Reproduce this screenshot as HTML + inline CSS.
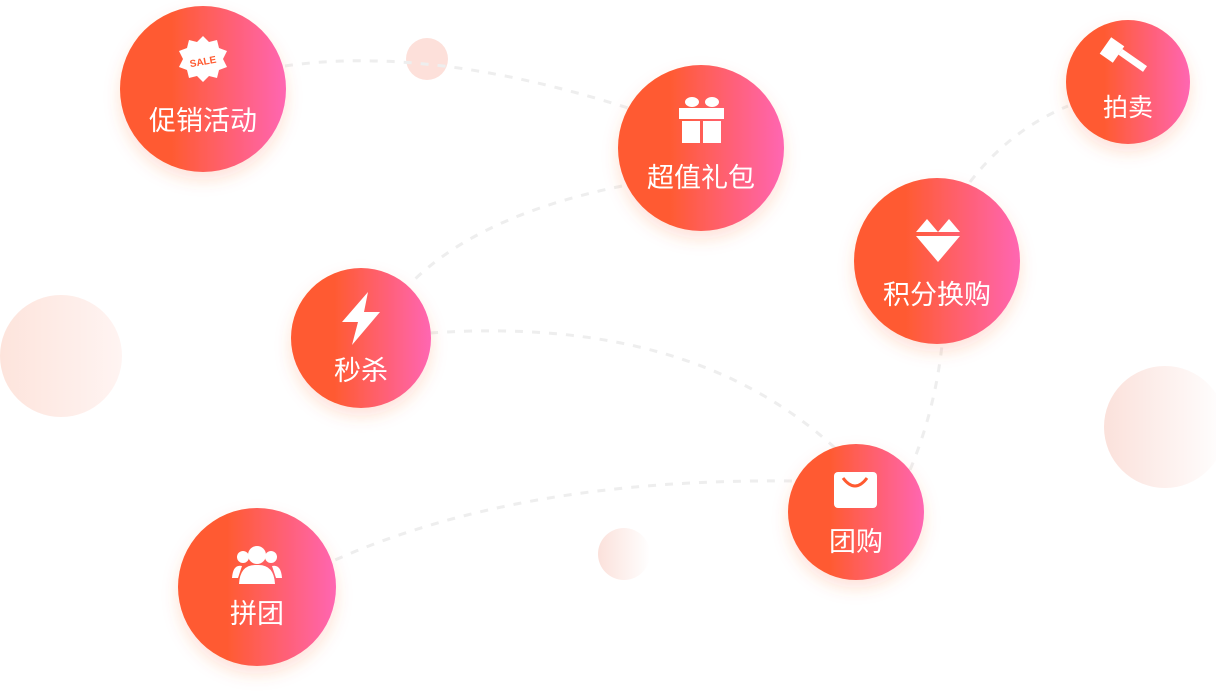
<!DOCTYPE html>
<html><head><meta charset="utf-8"><style>
html,body{margin:0;padding:0;background:#fff;width:1216px;height:694px;overflow:hidden}
svg{display:block}
text{font-family:"Liberation Sans","Noto Sans CJK SC",sans-serif;fill:#fff;text-anchor:middle}
</style></head><body>
<svg width="1216" height="694" viewBox="0 0 1216 694" xmlns="http://www.w3.org/2000/svg">
<defs>
<linearGradient id="g" x1="0" y1="0" x2="1" y2="0">
<stop offset="0.3" stop-color="#ff5a30"/><stop offset="1" stop-color="#ff66b2"/>
</linearGradient>
<linearGradient id="f1" x1="0" y1="0" x2="1" y2="0">
<stop offset="0" stop-color="#fde4dc"/><stop offset="1" stop-color="#fff4f2"/>
</linearGradient>
<linearGradient id="f2" x1="0" y1="0" x2="1" y2="0">
<stop offset="0" stop-color="#fbe1db"/><stop offset="1" stop-color="#ffffff"/>
</linearGradient>
<filter id="sh" x="-30%" y="-30%" width="160%" height="170%">
<feDropShadow dx="0" dy="8" stdDeviation="8" flood-color="#ff5a30" flood-opacity="0.18"/>
</filter>
</defs>
<circle cx="61" cy="356" r="61" fill="url(#f1)"/>
<circle cx="1165" cy="427" r="61" fill="url(#f2)"/>
<circle cx="624" cy="554" r="26" fill="url(#f2)"/>
<circle cx="427" cy="59" r="21" fill="#fde0da"/>
<g fill="none" stroke="#eeeeee" stroke-width="3" stroke-dasharray="8 9">
<path d="M285,66 Q430,45 628,108"/>
<path d="M622,186 Q480,215 412,282"/>
<path d="M430,333 Q690,315 835,448"/>
<path d="M792,481 Q520,478 335,560"/>
<path d="M910,470 Q935,410 942,345"/>
<path d="M970,182 Q1010,130 1068,106"/>
</g>
<g filter="url(#sh)">
<circle cx="203" cy="89" r="83" fill="url(#g)"/>
<circle cx="701" cy="148" r="83" fill="url(#g)"/>
<circle cx="1128" cy="82" r="62" fill="url(#g)"/>
<circle cx="937" cy="261" r="83" fill="url(#g)"/>
<circle cx="361" cy="338" r="70" fill="url(#g)"/>
<circle cx="856" cy="512" r="68" fill="url(#g)"/>
<circle cx="257" cy="587" r="79" fill="url(#g)"/>
</g>
<g fill="#fff">
<polygon points="203,36 209,42 217,40 219,48 227,51 223,59 227,67 219,70 217,78 209,76 203,82 197,76 189,78 187,70 179,67 183,59 179,51 187,48 189,40 197,42"/>
<text x="203" y="65" style="font-size:10px;font-weight:bold;fill:#ff5a30" transform="rotate(-10 203 62)">SALE</text>
<rect x="679" y="108" width="45" height="11"/>
<rect x="682" y="121" width="18" height="22"/><rect x="703" y="121" width="18" height="22"/>
<ellipse cx="692" cy="102" rx="7" ry="5"/><ellipse cx="712" cy="102" rx="7" ry="5"/>
<rect x="1104" y="40" width="16" height="20" transform="rotate(35 1112 50)"/>
<rect x="1118" y="57" width="30" height="7" transform="rotate(35 1133 60)"/>
<polygon points="916,232 927,219 938,232"/><polygon points="938,232 949,219 960,232"/>
<polygon points="916,236 960,236 938,262"/>
<polygon points="368,292 342,322 358,322 352,345 380,312 364,312"/>
<rect x="834" y="472" width="43" height="36" rx="4"/>
<path d="M843,478 Q855,494 867,478" stroke="#ff5a30" stroke-width="3" fill="none"/>
<circle cx="257" cy="555" r="9"/>
<path d="M239,584 Q240,564 257,565 Q274,564 275,584 Z"/>
<circle cx="243" cy="557" r="6"/><circle cx="271" cy="557" r="6"/>
<path d="M232,578 Q233,564 242,566 L238,578Z"/><path d="M282,578 Q281,564 272,566 L276,578Z"/>
</g>
<text x="203" y="130" style="font-size:27px">促销活动</text>
<text x="701" y="187" style="font-size:27px">超值礼包</text>
<text x="1128" y="116" style="font-size:25px">拍卖</text>
<text x="937" y="304" style="font-size:27px">积分换购</text>
<text x="361" y="380" style="font-size:27px">秒杀</text>
<text x="856" y="551" style="font-size:27px">团购</text>
<text x="257" y="623" style="font-size:27px">拼团</text>
</svg>
</body></html>
